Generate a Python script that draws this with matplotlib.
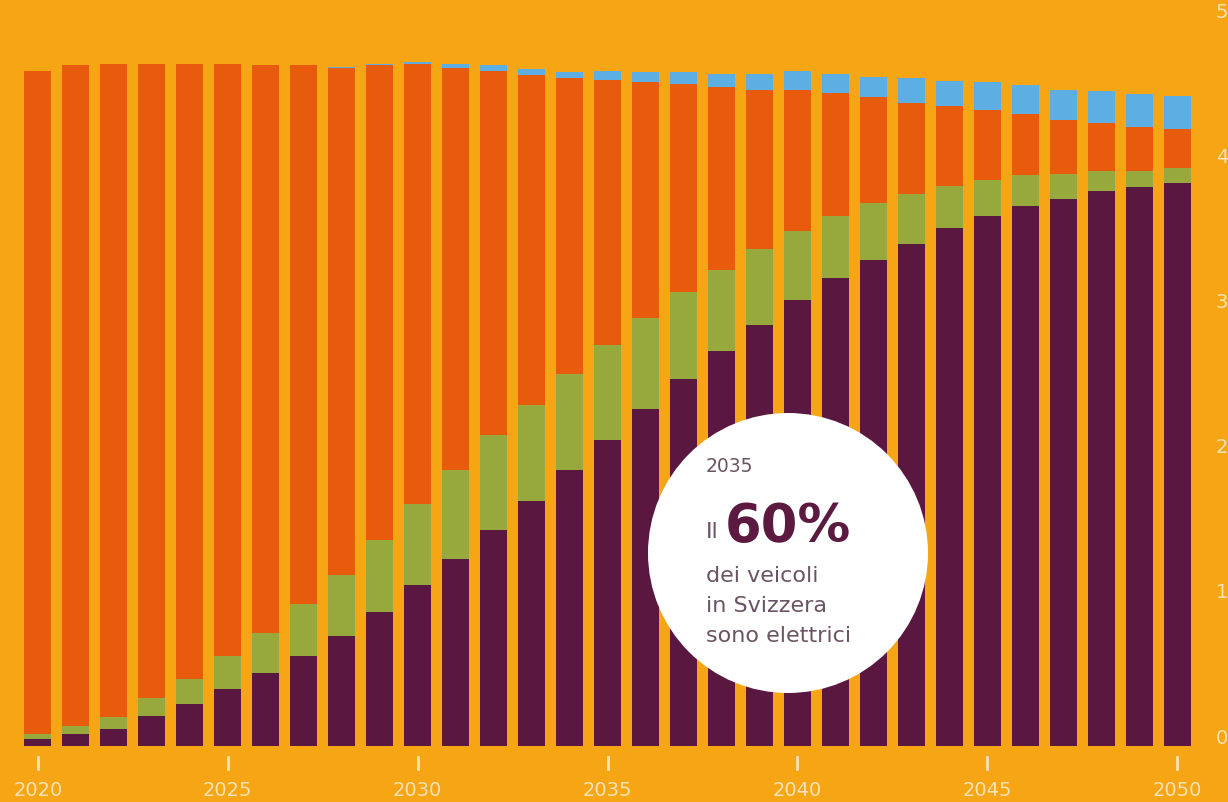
import numpy as np
import matplotlib
matplotlib.use("Agg")
import matplotlib.pyplot as plt
from matplotlib.patches import Ellipse
import matplotlib.transforms as mtransforms

# dati (milioni di veicoli)
anni = list(range(2020, 2051))
elettrici = [0.05, 0.08, 0.12, 0.21, 0.29, 0.39, 0.50, 0.62, 0.76, 0.92,
             1.11, 1.29, 1.49, 1.69, 1.90, 2.11, 2.32, 2.53, 2.72, 2.90,
             3.07, 3.22, 3.35, 3.46, 3.57, 3.65, 3.72, 3.77, 3.82, 3.85, 3.88]
ibridi = [0.03, 0.06, 0.08, 0.12, 0.17, 0.23, 0.28, 0.36, 0.42, 0.50,
          0.56, 0.61, 0.65, 0.66, 0.66, 0.65, 0.63, 0.60, 0.56, 0.52,
          0.48, 0.43, 0.39, 0.34, 0.29, 0.25, 0.21, 0.17, 0.14, 0.11, 0.10]
combustione = [4.57, 4.55, 4.50, 4.37, 4.24, 4.08, 3.91, 3.71, 3.49, 3.27,
               3.03, 2.77, 2.51, 2.27, 2.04, 1.83, 1.62, 1.43, 1.26, 1.10,
               0.97, 0.85, 0.73, 0.63, 0.55, 0.48, 0.42, 0.37, 0.33, 0.30, 0.27]
altri = [0, 0, 0, 0, 0, 0, 0, 0, 0.005, 0.005,
         0.014, 0.03, 0.04, 0.04, 0.04, 0.06, 0.07, 0.08, 0.09, 0.11,
         0.13, 0.13, 0.14, 0.17, 0.17, 0.19, 0.20, 0.21, 0.22, 0.23, 0.23]
anni_etichette = [2020, 2025, 2030, 2035, 2040, 2045, 2050]
valori_asse = [0, 1, 2, 3, 4, 5]

# colori
sfondo = "#F6A615"
viola = "#5A1840"
verde = "#97A93D"
arancio = "#E85B0C"
azzurro = "#5DAEE2"
chiaro = "#FCE2B4"

fig = plt.figure(figsize=(12.28, 8.02), dpi=100)
fig.patch.set_facecolor(sfondo)
ax = fig.add_axes([0, 0.0698, 1, 0.9052])
ax.set_facecolor(sfondo)

x = np.array(anni)
e = np.array(elettrici)
h = np.array(ibridi)
c = np.array(combustione)
a = np.array(altri)
w = 0.71
ax.bar(x, e, w, color=viola)
ax.bar(x, h, w, bottom=e, color=verde)
ax.bar(x, c, w, bottom=e + h, color=arancio)
ax.bar(x, a, w, bottom=e + h + c, color=azzurro)

ax.set_xlim(2019.0, 2051.34)
ax.set_ylim(0, 5)
ax.axis("off")

# etichette asse x con trattini
trans_x = mtransforms.blended_transform_factory(ax.transData, ax.transAxes)
for yr in anni_etichette:
    ax.plot([yr, yr], [-0.0152, -0.031], color=chiaro, lw=2,
            transform=trans_x, clip_on=False)
    ax.text(yr, -0.0606, str(yr), color=chiaro, fontsize=14,
            ha="center", va="center", transform=trans_x)

# etichette asse y a destra
trans_y = mtransforms.blended_transform_factory(ax.transAxes, ax.transData)
for v in valori_asse:
    ax.text(0.990, v + 0.055, str(v), color=chiaro, fontsize=14,
            ha="left", va="center", transform=trans_y)

# cerchio bianco con il testo (ellisse in coordinate figura = cerchio in pixel)
cx, cy, r = 788, 553, 140
circ = Ellipse((cx / 1228, 1 - cy / 802), 2 * r / 1228, 2 * r / 802,
               transform=fig.transFigure, facecolor="white",
               edgecolor="none", zorder=5)
fig.patches.append(circ)

testo = "#6A5463"
fig.text(706 / 1228, 1 - 467 / 802, "2035", color=testo, fontsize=13.5,
         ha="left", va="center", zorder=6)
fig.text(706 / 1228, 1 - 532 / 802, "Il", color=testo, fontsize=16,
         ha="left", va="center", zorder=6)
fig.text(725 / 1228, 1 - 527 / 802, "60%", color="#5C1A40", fontsize=38,
         fontweight="bold", ha="left", va="center", zorder=6)
for i, riga in enumerate(["dei veicoli", "in Svizzera", "sono elettrici"]):
    fig.text(706 / 1228, 1 - (576 + 30 * i) / 802, riga, color=testo,
             fontsize=16, ha="left", va="center", zorder=6)

fig.savefig("out.png", dpi=100, facecolor=sfondo)
